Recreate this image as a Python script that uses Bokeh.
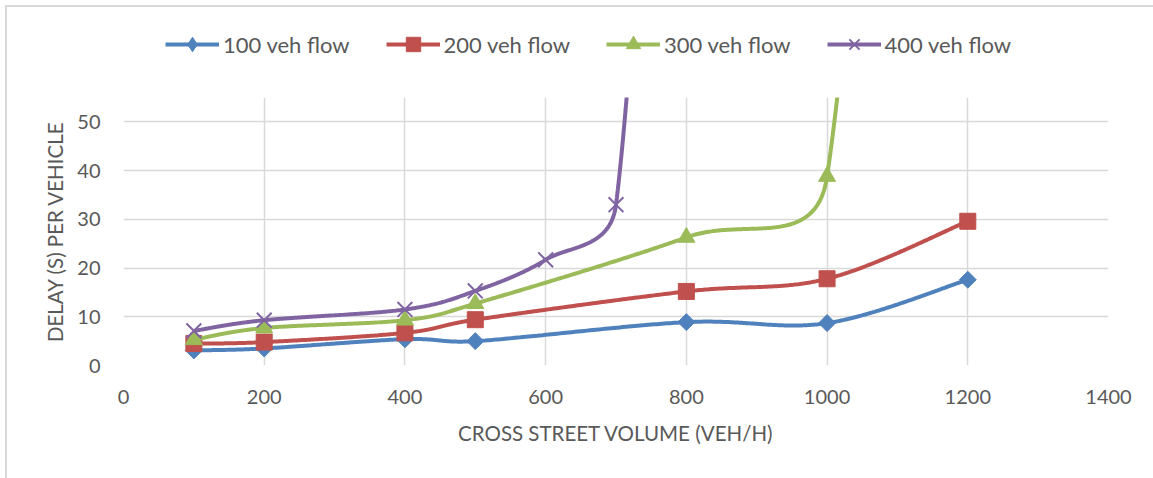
import numpy as np
from bokeh.plotting import figure
from bokeh.layouts import column
from bokeh.models import Range1d, FixedTicker, Legend, LegendItem
from bokeh.embed import file_html
from bokeh.resources import INLINE

# ---- data ----
x_main = [100, 200, 400, 500, 800, 1000, 1200]
delay_100 = [3.1, 3.5, 5.4, 5.0, 8.9, 8.7, 17.6]
delay_200 = [4.5, 4.8, 6.7, 9.4, 15.2, 17.8, 29.6]
delay_300 = [5.3, 7.7, 9.3, 12.7, 26.3, 38.8, 415.0]
x_400 = [100, 200, 400, 500, 600, 700, 800]
delay_400 = [7.1, 9.3, 11.5, 15.3, 21.7, 33.0, 250.0]

series_names = ["100 veh flow", "200 veh flow", "300 veh flow", "400 veh flow"]
x_ticks = [0, 200, 400, 600, 800, 1000, 1200, 1400]
y_ticks = [0, 10, 20, 30, 40, 50]

FONT = "Lato"
TXT = "#595959"
GRID = "#D9D9D9"

W = 1146                # total drawing width (page starts at x=7 after border)
LH = 83                 # legend strip height (page y 7..90)
H = 388                 # main plot height (page y 90..478)
ML, MR, MT, MB = 116, 45, 7, 113
FW, FH = W - ML - MR, H - MT - MB
XMAX, YMAX = 1400, 55
kx, ky = FW / XMAX, FH / YMAX


def excel_smooth(xs, ys, n=80):
    """Excel-like smoothed line (Bezier, control points capped), in screen space."""
    P = np.column_stack([np.asarray(xs, float) * kx, np.asarray(ys, float) * ky])
    m = len(P)
    out = []
    t = np.linspace(0, 1, n)[:, None]
    for i in range(m - 1):
        p0 = P[i - 1] if i > 0 else P[i]
        p1, p2 = P[i], P[i + 1]
        p3 = P[i + 2] if i + 2 < m else P[i + 1]
        d02 = np.hypot(*(p2 - p0))
        d12 = np.hypot(*(p2 - p1))
        d13 = np.hypot(*(p3 - p1))
        f1 = f2 = 1 / 6
        if not (d02 / 6 < d12 / 2 and d13 / 6 < d12 / 2):
            if d02 / 6 >= d12 / 2:
                f1 = d12 / d02 / 2
            if d13 / 6 >= d12 / 2:
                f2 = d12 / d13 / 2
        c1 = p1 + f1 * (p2 - p0)
        c2 = p2 - f2 * (p3 - p1)
        seg = (1 - t) ** 3 * p1 + 3 * t * (1 - t) ** 2 * c1 + 3 * t ** 2 * (1 - t) * c2 + t ** 3 * p2
        out.append(seg if i == 0 else seg[1:])
    pts = np.vstack(out)
    return pts[:, 0] / kx, pts[:, 1] / ky


p = figure(width=W, height=H, x_range=Range1d(0, XMAX), y_range=Range1d(0, YMAX),
           output_backend="svg", toolbar_location=None,
           min_border_left=ML, min_border_right=MR, min_border_top=MT, min_border_bottom=MB,
           background_fill_color="white", border_fill_color="white")
p.outline_line_color = None

for ax in (p.xaxis[0], p.yaxis[0]):
    ax.axis_line_color = None
    ax.major_tick_line_color = None
    ax.minor_tick_line_color = None
    ax.major_label_text_font = FONT
    ax.major_label_text_font_size = "20px"
    ax.major_label_text_color = TXT
    ax.axis_label_text_font = FONT
    ax.axis_label_text_font_size = "20.5px"
    ax.axis_label_text_font_style = "normal"
    ax.axis_label_text_color = TXT

p.xaxis.ticker = FixedTicker(ticks=x_ticks)
p.yaxis.ticker = FixedTicker(ticks=y_ticks)
p.xaxis.axis_label = "CROSS STREET VOLUME (VEH/H)"
p.yaxis.axis_label = "DELAY (S) PER VEHICLE"
p.xaxis.major_label_standoff = 18
p.xaxis.axis_label_standoff = 14
p.yaxis.major_label_standoff = 17
p.yaxis.axis_label_standoff = 7

p.xgrid.ticker = FixedTicker(ticks=x_ticks)
p.ygrid.ticker = FixedTicker(ticks=y_ticks)
for g in (p.xgrid[0], p.ygrid[0]):
    g.grid_line_color = GRID
    g.grid_line_width = 1.5

colors = ["#4F81BD", "#C0504D", "#9BBB59", "#8064A2"]
xs_all = [x_main, x_main, x_main, x_400]
ys_all = [delay_100, delay_200, delay_300, delay_400]
markers = ["square", "square", "triangle", "x"]
legend_markers = ["diamond", "square", "triangle", "x"]
sizes = [12, 16, 17, 21]
angles = [np.pi / 4, 0, 0, 0]
lws = [1, 1, 1, 2]

# legend strip (separate figure so the legend is not clipped by the plot frame;
# the column aligns its frame with the main plot's frame)
lg = figure(width=W, height=LH, x_range=Range1d(0, 1), y_range=Range1d(0, 1),
            output_backend="svg", toolbar_location=None,
            min_border_left=0, min_border_right=0, min_border_top=0, min_border_bottom=0,
            background_fill_color="white", border_fill_color="white")
lg.outline_line_color = None
lg.axis.visible = False
lg.grid.visible = False

items = []
for name, xs, ys, c, mk, lmk, sz, ang, lw in zip(series_names, xs_all, ys_all, colors, markers,
                                                 legend_markers, sizes, angles, lws):
    sx, sy = excel_smooth(xs, ys)
    p.line(sx, sy, line_color=c, line_width=4)
    p.scatter(xs, ys, marker=mk, size=sz, angle=ang, fill_color=c, line_color=c, line_width=lw)
    # legend proxies (positioned outside the legend strip's visible range)
    lr = lg.line([5, 6], [5, 6], line_color=c, line_width=4)
    sr = lg.scatter([5], [5], marker=lmk, size=sz, fill_color=c, line_color=c, line_width=lw)
    items.append(LegendItem(label=name, renderers=[lr, sr]))

legend = Legend(items=items, orientation="horizontal", location=(42, 28))
legend.border_line_color = None
legend.background_fill_alpha = 0
legend.padding = 0
legend.margin = 0
legend.spacing = 36
legend.label_standoff = 4
legend.glyph_width = 54
legend.glyph_height = 36
legend.label_height = 36
legend.label_text_font = FONT
legend.label_text_font_size = "22px"
legend.label_text_color = TXT
lg.add_layout(legend)

layout = column(lg, p, spacing=0,
                styles={"margin-left": "5px", "margin-top": "5px",
                        "border-left": "2px solid #D9D9D9", "border-top": "2px solid #D9D9D9"})

open("out.html", "w").write(file_html(layout, INLINE))
